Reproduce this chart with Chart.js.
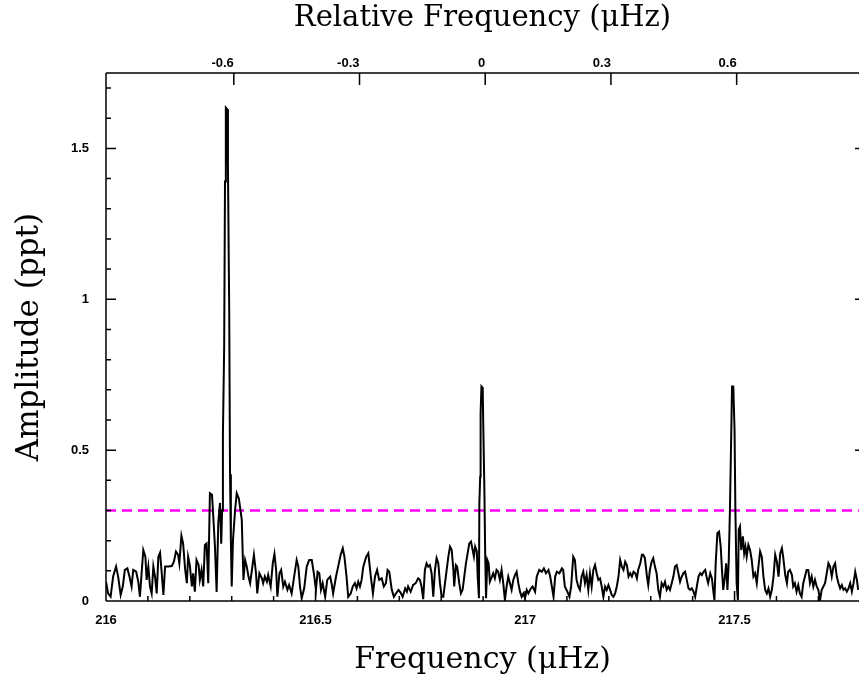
<!DOCTYPE html>
<html>
<head>
<meta charset="utf-8">
<script src="https://cdn.jsdelivr.net/npm/chart.js@4/dist/chart.umd.min.js"></script>
<style>
  body { margin: 0; background: #fff; }
  #wrap { width: 859px; height: 681px; }
</style>
</head>
<body>
<div id="wrap"><canvas id="graph"></canvas></div>
<script>
// Amplitude spectrum
var freqs = [
  216.000, 216.005, 216.011, 216.017, 216.024, 216.029, 216.035, 216.040, 216.045, 216.051,
  216.056, 216.061, 216.065, 216.072, 216.077, 216.081, 216.085, 216.089, 216.094, 216.097,
  216.101, 216.105, 216.109, 216.113, 216.117, 216.121, 216.125, 216.129, 216.133, 216.137,
  216.141, 216.149, 216.157, 216.162, 216.167, 216.172, 216.175, 216.180, 216.184, 216.189,
  216.193, 216.196, 216.200, 216.205, 216.208, 216.212, 216.216, 216.221, 216.224, 216.228,
  216.232, 216.236, 216.240, 216.244, 216.248, 216.253, 216.256, 216.260, 216.264, 216.268,
  216.272, 216.275, 216.277, 216.279, 216.282, 216.284, 216.286, 216.289, 216.291, 216.294,
  216.296, 216.298, 216.300, 216.303, 216.308, 216.312, 216.317, 216.324, 216.328, 216.332,
  216.336, 216.340, 216.344, 216.353, 216.358, 216.361, 216.366, 216.372, 216.375, 216.379,
  216.384, 216.387, 216.393, 216.398, 216.402, 216.406, 216.409, 216.414, 216.418, 216.423,
  216.427, 216.433, 216.437, 216.443, 216.449, 216.455, 216.459, 216.463, 216.467, 216.473,
  216.479, 216.485, 216.491, 216.496, 216.501, 216.505, 216.509, 216.513, 216.517, 216.523,
  216.528, 216.535, 216.539, 216.542, 216.549, 216.554, 216.560, 216.565, 216.569, 216.574,
  216.578, 216.584, 216.589, 216.594, 216.598, 216.602, 216.606, 216.610, 216.614, 216.621,
  216.626, 216.632, 216.637, 216.642, 216.647, 216.652, 216.658, 216.663, 216.668, 216.672,
  216.676, 216.682, 216.687, 216.692, 216.698, 216.703, 216.708, 216.714, 216.718, 216.721,
  216.727, 216.733, 216.739, 216.745, 216.749, 216.753, 216.757, 216.761, 216.765, 216.769,
  216.773, 216.777, 216.781, 216.785, 216.789, 216.793, 216.797, 216.801, 216.805, 216.809,
  216.813, 216.817, 216.821, 216.825, 216.829, 216.831, 216.835, 216.838, 216.843, 216.847,
  216.851, 216.855, 216.859, 216.863, 216.867, 216.871, 216.875, 216.878, 216.881, 216.885,
  216.887, 216.890, 216.891, 216.893, 216.894, 216.896, 216.899, 216.900, 216.903, 216.905,
  216.907, 216.910, 216.913, 216.916, 216.921, 216.924, 216.928, 216.932, 216.936, 216.940,
  216.944, 216.948, 216.952, 216.956, 216.960, 216.964, 216.968, 216.972, 216.976, 216.980,
  216.984, 216.988, 216.992, 216.996, 217.000, 217.004, 217.008, 217.014, 217.018, 217.024,
  217.028, 217.034, 217.040, 217.045, 217.050, 217.056, 217.060, 217.064, 217.068, 217.072,
  217.076, 217.082, 217.088, 217.091, 217.095, 217.101, 217.106, 217.110, 217.115, 217.119,
  217.123, 217.127, 217.131, 217.135, 217.139, 217.143, 217.147, 217.151, 217.155, 217.159,
  217.163, 217.167, 217.171, 217.175, 217.179, 217.183, 217.187, 217.191, 217.195, 217.199,
  217.203, 217.207, 217.211, 217.215, 217.219, 217.223, 217.227, 217.231, 217.235, 217.239,
  217.243, 217.247, 217.251, 217.255, 217.259, 217.263, 217.267, 217.270, 217.275, 217.279,
  217.282, 217.286, 217.291, 217.294, 217.298, 217.302, 217.306, 217.310, 217.314, 217.318,
  217.322, 217.326, 217.330, 217.334, 217.338, 217.342, 217.346, 217.350, 217.354, 217.358,
  217.362, 217.366, 217.370, 217.374, 217.378, 217.382, 217.386, 217.390, 217.394, 217.398,
  217.402, 217.406, 217.410, 217.414, 217.418, 217.422, 217.426, 217.430, 217.434, 217.437,
  217.442, 217.446, 217.449, 217.452, 217.455, 217.459, 217.463, 217.467, 217.470, 217.473,
  217.477, 217.480, 217.483, 217.486, 217.489, 217.492, 217.494, 217.497, 217.500, 217.502,
  217.505, 217.508, 217.510, 217.513, 217.516, 217.520, 217.523, 217.526, 217.529, 217.533,
  217.537, 217.541, 217.545, 217.549, 217.553, 217.557, 217.561, 217.565, 217.569, 217.573,
  217.577, 217.581, 217.585, 217.589, 217.593, 217.597, 217.601, 217.605, 217.609, 217.613,
  217.616, 217.621, 217.625, 217.628, 217.632, 217.637, 217.640, 217.644, 217.648, 217.652,
  217.656, 217.660, 217.664, 217.668, 217.672, 217.676, 217.680, 217.684, 217.688, 217.692,
  217.696, 217.700, 217.704, 217.708, 217.712, 217.716, 217.720, 217.724, 217.728, 217.732,
  217.736, 217.740, 217.744, 217.748, 217.752, 217.756, 217.760, 217.764, 217.768, 217.772,
  217.776, 217.780, 217.784, 217.788, 217.792, 217.795
];
var amps = [
  0.064, 0.025, 0.014, 0.081, 0.114, 0.081, 0.020, 0.048, 0.103, 0.108,
  0.081, 0.048, 0.103, 0.097, 0.064, 0.014, 0.092, 0.169, 0.147, 0.070,
  0.114, 0.048, 0.025, 0.114, 0.081, 0.025, 0.147, 0.160, 0.092, 0.020,
  0.114, 0.114, 0.116, 0.130, 0.164, 0.153, 0.125, 0.216, 0.191, 0.103,
  0.059, 0.147, 0.119, 0.048, 0.092, 0.031, 0.136, 0.119, 0.070, 0.103,
  0.048, 0.186, 0.191, 0.059, 0.357, 0.352, 0.280, 0.180, 0.030, 0.260,
  0.325, 0.190, 0.300, 0.550, 0.840, 1.390, 1.635, 1.630, 1.440, 0.970,
  0.420, 0.200, 0.048, 0.200, 0.300, 0.357, 0.340, 0.270, 0.070, 0.136,
  0.114, 0.081, 0.059, 0.153, 0.092, 0.025, 0.092, 0.075, 0.059, 0.081,
  0.064, 0.086, 0.048, 0.125, 0.156, 0.103, 0.014, 0.092, 0.103, 0.048,
  0.064, 0.037, 0.053, 0.025, 0.081, 0.136, 0.114, 0.048, 0.009, 0.042,
  0.114, 0.136, 0.136, 0.092, 0.037, 0.097, 0.092, 0.037, 0.059, 0.014,
  0.070, 0.081, 0.053, 0.025, 0.081, 0.114, 0.153, 0.175, 0.147, 0.081,
  0.014, 0.025, 0.048, 0.059, 0.042, 0.064, 0.048, 0.070, 0.114, 0.147,
  0.158, 0.081, 0.025, 0.081, 0.103, 0.070, 0.075, 0.048, 0.059, 0.103,
  0.097, 0.037, 0.014, 0.025, 0.037, 0.028, 0.014, 0.042, 0.031, 0.048,
  0.031, 0.053, 0.059, 0.075, 0.070, 0.048, 0.006, 0.103, 0.125, 0.114,
  0.119, 0.092, 0.014, 0.103, 0.142, 0.125, 0.059, 0.014, 0.014, 0.059,
  0.103, 0.147, 0.180, 0.169, 0.103, 0.048, 0.119, 0.114, 0.059, 0.025,
  0.037, 0.081, 0.125, 0.158, 0.191, 0.197, 0.169, 0.147, 0.180, 0.164,
  0.081, 0.009, 0.324, 0.413, 0.623, 0.711, 0.706, 0.612, 0.368, 0.147,
  0.009, 0.136, 0.125, 0.064, 0.081, 0.092, 0.075, 0.103, 0.097, 0.070,
  0.103, 0.059, 0.003, 0.048, 0.081, 0.059, 0.037, 0.070, 0.086, 0.097,
  0.059, 0.031, 0.014, 0.025, 0.009, 0.037, 0.025, 0.042, 0.048, 0.031,
  0.081, 0.103, 0.097, 0.108, 0.092, 0.103, 0.081, 0.048, 0.014, 0.081,
  0.097, 0.092, 0.108, 0.103, 0.048, 0.031, 0.014, 0.048, 0.147, 0.136,
  0.070, 0.048, 0.037, 0.081, 0.097, 0.059, 0.086, 0.037, 0.092, 0.048,
  0.103, 0.119, 0.092, 0.070, 0.075, 0.048, 0.014, 0.048, 0.037, 0.053,
  0.037, 0.020, 0.014, 0.025, 0.048, 0.081, 0.136, 0.114, 0.103, 0.130,
  0.119, 0.081, 0.092, 0.081, 0.097, 0.092, 0.075, 0.103, 0.125, 0.153,
  0.153, 0.142, 0.081, 0.053, 0.103, 0.130, 0.142, 0.114, 0.092, 0.037,
  0.014, 0.059, 0.048, 0.064, 0.037, 0.048, 0.037, 0.059, 0.081, 0.114,
  0.119, 0.092, 0.064, 0.081, 0.092, 0.097, 0.070, 0.042, 0.037, 0.042,
  0.031, 0.014, 0.048, 0.081, 0.092, 0.086, 0.097, 0.103, 0.075, 0.059,
  0.092, 0.075, 0.037, 0.003, 0.125, 0.225, 0.230, 0.180, 0.103, 0.037,
  0.081, 0.125, 0.037, 0.125, 0.302, 0.545, 0.711, 0.711, 0.567, 0.302,
  0.059, 0.003, 0.236, 0.247, 0.169, 0.214, 0.158, 0.180, 0.147, 0.186,
  0.169, 0.136, 0.081, 0.092, 0.059, 0.114, 0.164, 0.147, 0.081, 0.037,
  0.025, 0.042, 0.014, 0.037, 0.081, 0.153, 0.130, 0.081, 0.158, 0.175,
  0.147, 0.086, 0.059, 0.097, 0.103, 0.086, 0.048, 0.059, 0.031, 0.053,
  0.025, 0.014, 0.059, 0.081, 0.103, 0.103, 0.059, 0.081, 0.048, 0.070,
  0.048, 0.037, 0.003, 0.037, 0.048, 0.059, 0.092, 0.125, 0.114, 0.081,
  0.114, 0.125, 0.081, 0.059, 0.042, 0.053, 0.037, 0.042, 0.031, 0.042,
  0.059, 0.031, 0.059, 0.097, 0.070, 0.037
];

var xMin = 216;
var xMax = 217.797;
var yMax = 1.75;
var rel0 = 216.905;      // zero of the relative frequency axis
var threshold = 0.3;     // significance level (dashed line)

var tickFont = { family: 'Liberation Sans', size: 13, weight: 'bold' };
var titleFont = { family: 'DejaVu Serif', size: 30, weight: 'normal' };

// labels without trailing zeros: 216, 216.5, 1, 1.5
function plainLabel(v) { return String(Number(v.toFixed(2))); }

// frame + inward ticks, PGPLOT style
var frame = {
    id: 'frame',
    afterDraw: function (chart) {
        var ctx = chart.ctx;
        var a = chart.chartArea;
        var x = chart.scales.x, y = chart.scales.y, x2 = chart.scales.x2;
        ctx.save();
        ctx.strokeStyle = '#000';
        ctx.lineWidth = 1.5;
        ctx.beginPath();
        ctx.moveTo(a.left, a.top); ctx.lineTo(a.right, a.top);
        ctx.moveTo(a.left, a.top); ctx.lineTo(a.left, a.bottom);
        ctx.moveTo(a.left, a.bottom); ctx.lineTo(a.right, a.bottom);
        for (var k = 0; xMin + k * 0.1 <= xMax; k++) {
            var px = x.getPixelForValue(xMin + k * 0.1);
            ctx.moveTo(px, a.bottom); ctx.lineTo(px, a.bottom - (k % 5 === 0 ? 10 : 5));
        }
        for (var j = 0; j * 0.1 <= yMax; j++) {
            var py = y.getPixelForValue(j * 0.1);
            var major = j % 5 === 0;
            ctx.moveTo(a.left, py); ctx.lineTo(a.left + (major ? 10 : 5), py);
            if (major) { ctx.moveTo(a.right, py); ctx.lineTo(a.right - 4, py); }
        }
        x2.ticks.forEach(function (t) {
            var p = x2.getPixelForValue(t.value);
            ctx.moveTo(p, a.top); ctx.lineTo(p, a.top + 12);
        });
        ctx.stroke();
        ctx.restore();
    }
};

var ctx = document.getElementById('graph').getContext('2d');
var chart = new Chart(ctx, {
    type: 'line',
    data: {
        datasets: [{
            data: freqs.map(function (f, i) { return { x: f, y: amps[i] }; }),
            borderColor: '#000',
            borderWidth: 2,
            pointRadius: 0,
            tension: 0
        }, {
            data: [{ x: xMin, y: threshold }, { x: xMax, y: threshold }],
            borderColor: '#ff00ff',
            borderWidth: 2.5,
            borderDash: [10, 6],
            pointRadius: 0
        }]
    },
    options: {
        responsive: true,
        maintainAspectRatio: false,
        animation: false,
        layout: { padding: 0 },
        plugins: { legend: { display: false }, tooltip: { enabled: false } },
        scales: {
            x: {
                type: 'linear', position: 'bottom', min: xMin, max: xMax,
                grid: { display: false, drawTicks: false }, border: { display: false },
                ticks: { stepSize: 0.5, includeBounds: false, padding: 12, color: '#000', font: tickFont, maxRotation: 0, autoSkip: false, callback: plainLabel },
                title: { display: true, text: 'Frequency (μHz)', color: '#000', font: titleFont, padding: { top: 0, bottom: 3 } },
                afterFit: function (s) { s.height = 80; }
            },
            x2: {
                type: 'linear', position: 'top', min: xMin - rel0, max: xMax - rel0,
                grid: { display: false, drawTicks: false }, border: { display: false },
                ticks: { stepSize: 0.3, includeBounds: false, padding: 2, align: 'end', color: '#000', font: tickFont, maxRotation: 0, autoSkip: false, callback: plainLabel },
                afterBuildTicks: function (s) { s.ticks = s.ticks.filter(function (t) { return t.value > -0.85 && t.value < 0.85; }); },
                title: { display: true, text: 'Relative Frequency (μHz)', color: '#000', font: { family: 'DejaVu Serif', size: 29 }, padding: { top: 1, bottom: 0 } },
                afterFit: function (s) { s.height = 73; }
            },
            y: {
                min: 0, max: yMax,
                grid: { display: false, drawTicks: false }, border: { display: false },
                ticks: { stepSize: 0.5, includeBounds: false, padding: 17, color: '#000', font: tickFont, callback: plainLabel },
                title: { display: true, text: 'Amplitude (ppt)', color: '#000', font: { family: 'DejaVu Serif', size: 31 }, padding: { top: 11, bottom: 0 } },
                afterFit: function (s) { s.width = 106; }
            }
        }
    },
    plugins: [frame]
});
</script>
</body>
</html>
